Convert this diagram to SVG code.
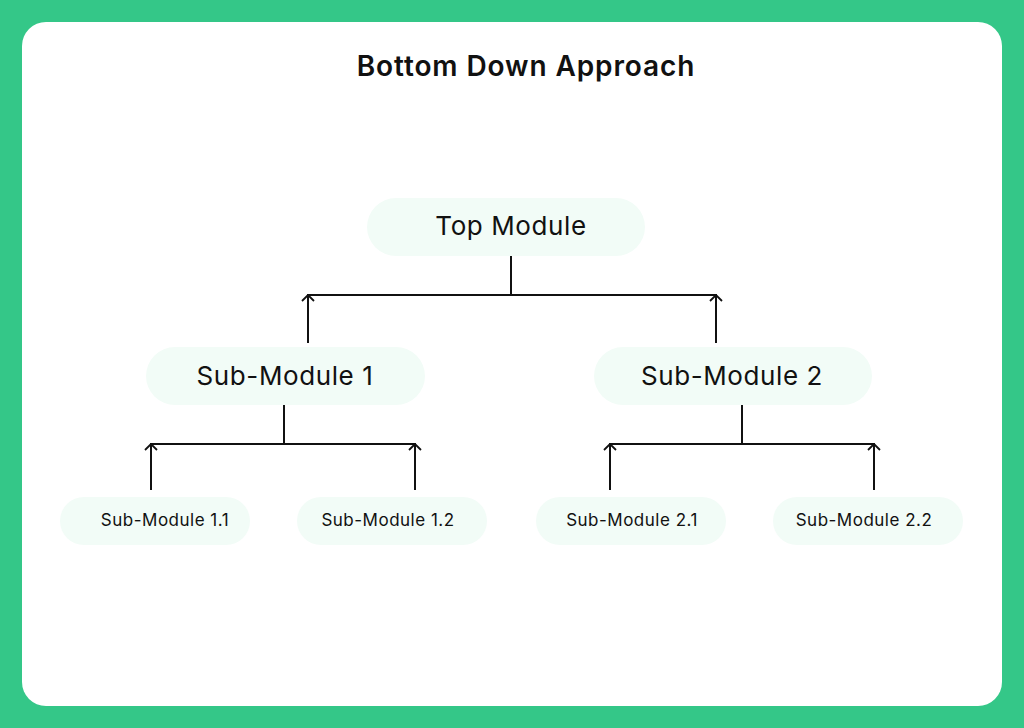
<svg xmlns="http://www.w3.org/2000/svg" width="1024" height="728" viewBox="0 0 1024 728">
<defs>
<style>
.node{fill:#F2FCF7;}
.lbl{font-family:Inter,"Open Sans","DejaVu Sans",sans-serif;fill:#111;text-anchor:middle;dominant-baseline:central;}
.big{font-size:26px;letter-spacing:0.6px;}
.small{font-size:17px;letter-spacing:0.5px;}
.ln{stroke:#111;stroke-width:2;fill:none;}
</style>
<marker id="ah" viewBox="0 0 8 14" refX="7" refY="7" markerWidth="8" markerHeight="14" markerUnits="userSpaceOnUse" orient="auto">
<path d="M1,1 L7,7 L1,13" fill="none" stroke="#111" stroke-width="1.8"/>
</marker>
</defs>
<rect x="0" y="0" width="1024" height="728" fill="#34C788"/>
<rect x="22" y="22" width="980" height="684" rx="24" fill="#FFFFFF"/>
<text x="526" y="66" class="lbl" style="font-size:28px;font-weight:600;letter-spacing:0.9px">Bottom Down Approach</text>
<g id="connectors">
<path class="ln" d="M511,256 V295 M307,295 H717 M284,405 V444 M150,444 H416 M742,405 V444 M609,444 H875"/>
<line class="ln" x1="308" y1="343" x2="308" y2="295" marker-end="url(#ah)"/>
<line class="ln" x1="716" y1="343" x2="716" y2="295" marker-end="url(#ah)"/>
<line class="ln" x1="151" y1="490" x2="151" y2="444" marker-end="url(#ah)"/>
<line class="ln" x1="415" y1="490" x2="415" y2="444" marker-end="url(#ah)"/>
<line class="ln" x1="610" y1="490" x2="610" y2="444" marker-end="url(#ah)"/>
<line class="ln" x1="874" y1="490" x2="874" y2="444" marker-end="url(#ah)"/>
</g>
<g id="top"><rect class="node" x="367" y="198" width="278" height="58" rx="29"/><text class="lbl big" x="511" y="225">Top Module</text></g>
<g id="sub1"><rect class="node" x="146" y="347" width="279" height="58" rx="29"/><text class="lbl big" x="285" y="375">Sub-Module 1</text></g>
<g id="sub2"><rect class="node" x="594" y="347" width="278" height="58" rx="29"/><text class="lbl big" x="732" y="375">Sub-Module 2</text></g>
<g id="sub11"><rect class="node" x="60" y="497" width="190" height="48" rx="24"/><text class="lbl small" x="165" y="520">Sub-Module 1.1</text></g>
<g id="sub12"><rect class="node" x="297" y="497" width="190" height="48" rx="24"/><text class="lbl small" x="388" y="520">Sub-Module 1.2</text></g>
<g id="sub21"><rect class="node" x="536" y="497" width="190" height="48" rx="24"/><text class="lbl small" x="632" y="520">Sub-Module 2.1</text></g>
<g id="sub22"><rect class="node" x="773" y="497" width="190" height="48" rx="24"/><text class="lbl small" x="864" y="520">Sub-Module 2.2</text></g>
</svg>
